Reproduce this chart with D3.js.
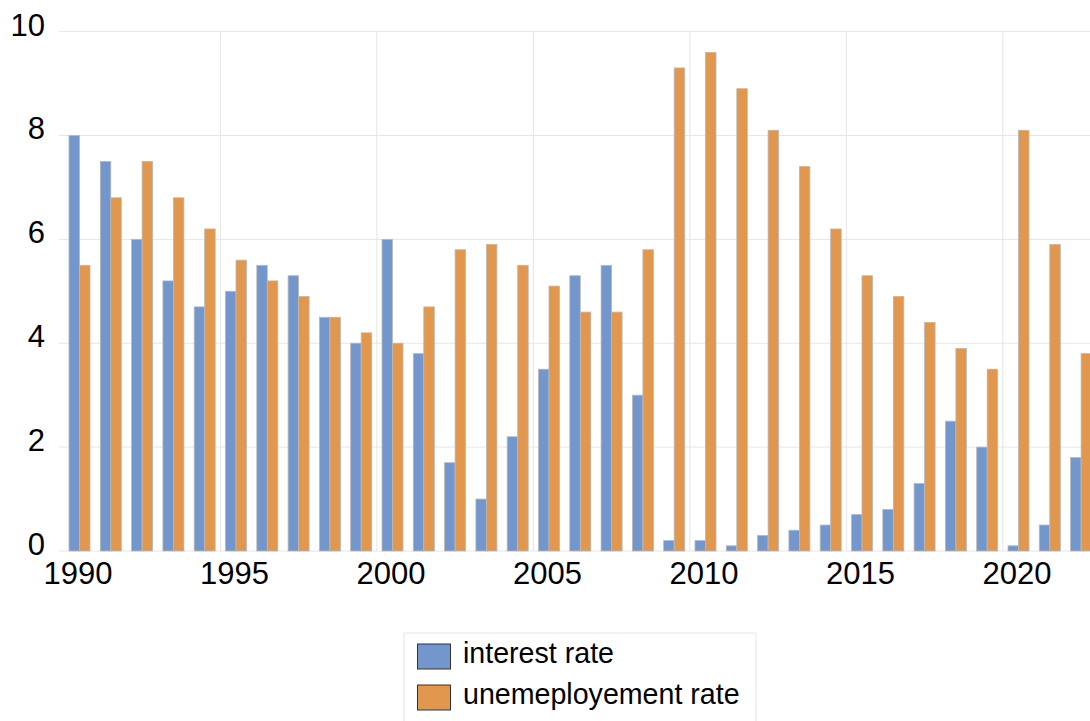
<!DOCTYPE html>
<html>
<head>
<meta charset="utf-8">
<script src="https://cdn.jsdelivr.net/npm/d3@7"></script>
<style>
  html, body { margin: 0; padding: 0; background: #fff; }
  svg { display: block; font-family: "Liberation Sans", Arial, sans-serif; }
</style>
</head>
<body>
<svg id="chart" width="1090" height="721"></svg>
<script>
// Annual rates, 1990–2022 (percent)
const years = d3.range(1990, 2023);
const interestRate = [8, 7.5, 6, 5.2, 4.7, 5, 5.5, 5.3, 4.5, 4, 6, 3.8, 1.7, 1, 2.2, 3.5, 5.3, 5.5, 3,
  0.2, 0.2, 0.1, 0.3, 0.4, 0.5, 0.7, 0.8, 1.3, 2.5, 2, 0.1, 0.5, 1.8];
const unemploymentRate = [5.5, 6.8, 7.5, 6.8, 6.2, 5.6, 5.2, 4.9, 4.5, 4.2, 4, 4.7, 5.8, 5.9, 5.5, 5.1, 4.6, 4.6, 5.8,
  9.3, 9.6, 8.9, 8.1, 7.4, 6.2, 5.3, 4.9, 4.4, 3.9, 3.5, 8.1, 5.9, 3.8];
const seriesNames = ["interest rate", "unemeployement rate"];
const seriesColors = ["#7396CD", "#E1974E"];
const yTicks = [0, 2, 4, 6, 8, 10];
const xTickYears = [1990, 1995, 2000, 2005, 2010, 2015, 2020];

const svg = d3.select("#chart");

const step = 31.3;
const firstCenter = 79.5;
const x = d3.scaleBand()
  .domain(years)
  .range([firstCenter - step / 2, firstCenter - step / 2 + step * years.length])
  .padding(0);
const xSub = d3.scaleBand()
  .domain([0, 1])
  .range([0, x.bandwidth()])
  .paddingInner(0)
  .paddingOuter(0.49);
const y = d3.scaleLinear().domain([0, 10]).range([551, 31.6]);

// horizontal gridlines
svg.append("g")
  .selectAll("line")
  .data(yTicks)
  .join("line")
  .attr("x1", 59).attr("x2", 1090)
  .attr("y1", d => y(d)).attr("y2", d => y(d))
  .attr("stroke", "#e6e6e6").attr("stroke-width", 1);

// vertical gridlines at the start of each labelled five-year block
svg.append("g")
  .selectAll("line")
  .data(xTickYears.filter(d => d !== 1990))
  .join("line")
  .attr("x1", d => x(d)).attr("x2", d => x(d))
  .attr("y1", y(10)).attr("y2", y(0))
  .attr("stroke", "#e6e6e6").attr("stroke-width", 1);

// bars
const rows = years.map((yr, i) => ({ year: yr, values: [interestRate[i], unemploymentRate[i]] }));
svg.append("g")
  .selectAll("g")
  .data(rows)
  .join("g")
  .attr("transform", d => `translate(${x(d.year)},0)`)
  .selectAll("rect")
  .data(d => d.values.map((v, k) => ({ k, v })))
  .join("rect")
  .attr("x", d => xSub(d.k))
  .attr("width", xSub.bandwidth())
  .attr("y", d => y(d.v))
  .attr("height", d => y(0) - y(d.v))
  .attr("fill", d => seriesColors[d.k])
  .attr("stroke", "#b8b8b8")
  .attr("stroke-width", 0.8);

// y axis labels
const yAxis = d3.axisLeft(y).tickValues(yTicks).tickSize(0).tickPadding(0);
const gy = svg.append("g").attr("transform", "translate(45,0)").call(yAxis);
gy.select(".domain").remove();
gy.selectAll("text")
  .attr("font-size", 31)
  .attr("font-family", "Liberation Sans, Arial, sans-serif")
  .attr("fill", "#000")
  .attr("dy", null)
  .attr("y", 3.5)
  .attr("dominant-baseline", "alphabetic");

// x axis labels
const xAxis = d3.axisBottom(x).tickValues(xTickYears).tickSize(0).tickPadding(0);
const gx = svg.append("g").attr("transform", "translate(-1.5,0)").call(xAxis);
gx.select(".domain").remove();
gx.selectAll("text")
  .attr("font-size", 31)
  .attr("font-family", "Liberation Sans, Arial, sans-serif")
  .attr("fill", "#000")
  .attr("dy", null)
  .attr("y", 583.5)
  .attr("dominant-baseline", "alphabetic");

// legend
const legend = svg.append("g");
legend.append("rect")
  .attr("x", 404).attr("y", 633)
  .attr("width", 352).attr("height", 100)
  .attr("fill", "#fff")
  .attr("stroke", "#e6e6e6").attr("stroke-width", 1);
const items = legend.selectAll("g.item")
  .data(seriesNames)
  .join("g")
  .attr("class", "item")
  .attr("transform", (d, i) => `translate(0,${i * 41})`);
items.append("rect")
  .attr("x", 417.5).attr("y", 644)
  .attr("width", 33).attr("height", 25)
  .attr("fill", (d, i) => seriesColors[i])
  .attr("stroke", "#333").attr("stroke-width", 1);
items.append("text")
  .attr("x", 463).attr("y", 663)
  .attr("font-size", 28.6)
  .attr("fill", "#000")
  .text(d => d);
</script>
</body>
</html>
